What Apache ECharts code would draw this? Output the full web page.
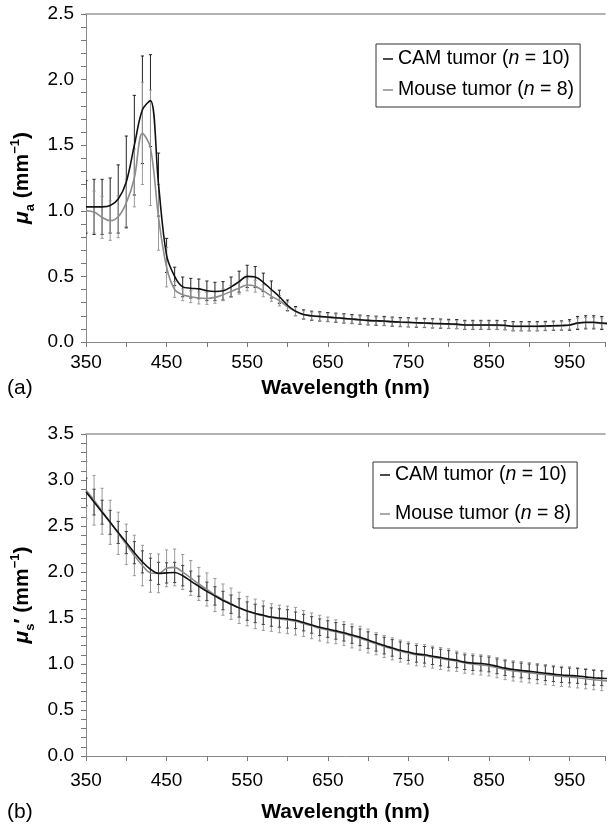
<!DOCTYPE html>
<html><head><meta charset="utf-8">
<script src="https://cdn.jsdelivr.net/npm/echarts@6/dist/echarts.min.js"></script>
<style>html,body{margin:0;padding:0;background:#fff}#c{width:608px;height:826px}</style>
</head><body><div id="c"></div>
<script>
const wavelengths = [350,360,370,380,390,400,410,420,430,440,450,460,470,480,490,500,510,520,530,540,550,560,570,580,590,600,610,620,630,640,650,660,670,680,690,700,710,720,730,740,750,760,770,780,790,800,810,820,830,840,850,860,870,880,890,900,910,920,930,940,950,960,970,980,990,1000];
const xTickLabels = [350,450,550,650,750,850,950];
const yTickLabelsA = [0.0,0.5,1.0,1.5,2.0,2.5];
const yTickLabelsB = [0.0,0.5,1.0,1.5,2.0,2.5,3.0,3.5];

// (a) absorption coefficient mu_a
const muaCam = [1.03,1.03,1.03,1.04,1.09,1.22,1.50,1.77,1.84,1.20,0.66,0.50,0.42,0.41,0.405,0.39,0.385,0.39,0.42,0.46,0.50,0.495,0.455,0.40,0.345,0.28,0.235,0.21,0.20,0.195,0.19,0.185,0.18,0.175,0.17,0.165,0.162,0.16,0.155,0.152,0.15,0.147,0.145,0.142,0.14,0.138,0.136,0.13,0.13,0.13,0.13,0.13,0.128,0.12,0.12,0.12,0.12,0.122,0.124,0.126,0.13,0.145,0.15,0.15,0.145,0.14];
const muaCamSd = [0.20,0.21,0.21,0.21,0.26,0.35,0.38,0.41,0.35,0.24,0.13,0.07,0.075,0.075,0.075,0.075,0.07,0.07,0.075,0.08,0.085,0.08,0.07,0.065,0.05,0.04,0.035,0.035,0.035,0.035,0.035,0.035,0.035,0.035,0.035,0.035,0.035,0.035,0.035,0.035,0.035,0.035,0.035,0.035,0.035,0.035,0.035,0.035,0.035,0.035,0.035,0.035,0.035,0.035,0.035,0.035,0.035,0.035,0.035,0.035,0.04,0.05,0.05,0.05,0.05,0.05];
const muaMouse = [1.00,0.99,0.95,0.925,0.955,1.06,1.25,1.59,1.48,0.95,0.57,0.40,0.36,0.345,0.335,0.332,0.34,0.36,0.385,0.41,0.435,0.425,0.39,0.35,0.315,0.27,0.232,0.207,0.198,0.193,0.188,0.183,0.178,0.173,0.168,0.163,0.16,0.157,0.153,0.15,0.148,0.145,0.143,0.14,0.138,0.135,0.133,0.128,0.128,0.128,0.128,0.127,0.125,0.118,0.118,0.118,0.118,0.12,0.122,0.124,0.128,0.142,0.147,0.147,0.142,0.137];
const muaMouseSd = [0.16,0.16,0.16,0.15,0.16,0.18,0.22,0.39,0.44,0.25,0.15,0.06,0.045,0.045,0.045,0.045,0.045,0.045,0.045,0.045,0.045,0.045,0.045,0.04,0.04,0.035,0.03,0.03,0.03,0.03,0.03,0.03,0.03,0.03,0.03,0.03,0.03,0.03,0.03,0.03,0.03,0.03,0.03,0.03,0.03,0.03,0.03,0.03,0.03,0.03,0.03,0.03,0.03,0.03,0.03,0.03,0.03,0.03,0.03,0.03,0.03,0.04,0.04,0.04,0.04,0.04];

// (b) reduced scattering coefficient mu_s'
const musCam = [2.87,2.76,2.65,2.54,2.43,2.32,2.21,2.11,2.03,1.985,1.99,1.995,1.96,1.90,1.845,1.79,1.74,1.69,1.65,1.61,1.575,1.55,1.53,1.51,1.50,1.49,1.475,1.45,1.425,1.40,1.38,1.36,1.34,1.315,1.29,1.26,1.23,1.20,1.175,1.15,1.13,1.11,1.10,1.085,1.07,1.055,1.04,1.02,1.01,1.005,0.995,0.975,0.955,0.94,0.93,0.92,0.91,0.90,0.89,0.88,0.875,0.87,0.86,0.85,0.845,0.84];
const musCamSd = [0.15,0.14,0.13,0.13,0.12,0.12,0.12,0.12,0.12,0.12,0.11,0.11,0.11,0.11,0.11,0.10,0.10,0.10,0.10,0.10,0.10,0.10,0.10,0.10,0.10,0.10,0.09,0.09,0.09,0.09,0.09,0.09,0.09,0.09,0.09,0.09,0.09,0.09,0.09,0.09,0.09,0.09,0.09,0.09,0.09,0.09,0.08,0.08,0.08,0.08,0.08,0.08,0.08,0.08,0.08,0.08,0.08,0.08,0.08,0.08,0.08,0.08,0.08,0.08,0.08,0.08];
const musMouse = [2.89,2.78,2.66,2.54,2.42,2.30,2.18,2.07,1.99,1.985,2.04,2.05,2.00,1.935,1.87,1.81,1.75,1.70,1.655,1.61,1.575,1.545,1.525,1.505,1.49,1.48,1.465,1.44,1.415,1.39,1.37,1.35,1.33,1.305,1.28,1.25,1.22,1.19,1.165,1.14,1.12,1.10,1.09,1.075,1.06,1.045,1.03,1.01,1.00,0.99,0.98,0.96,0.94,0.925,0.915,0.905,0.895,0.885,0.875,0.865,0.86,0.85,0.84,0.83,0.82,0.815];
const musMouseSd = [0.31,0.27,0.25,0.24,0.23,0.22,0.22,0.22,0.21,0.21,0.20,0.20,0.19,0.19,0.18,0.18,0.18,0.17,0.17,0.17,0.16,0.16,0.16,0.15,0.15,0.15,0.15,0.14,0.14,0.14,0.14,0.13,0.13,0.13,0.13,0.13,0.12,0.12,0.12,0.12,0.12,0.12,0.12,0.12,0.12,0.12,0.11,0.11,0.11,0.11,0.11,0.11,0.11,0.11,0.11,0.11,0.11,0.11,0.11,0.11,0.11,0.11,0.11,0.11,0.11,0.11];

const FONT = '"Liberation Sans", Arial, Helvetica, sans-serif';
const NAME_CAM = 'CAM tumor (n = 10)';
const NAME_MOUSE = 'Mouse tumor (n = 8)';
const X_MIN = 350, X_MAX = 994;

function pairs(vals){ return wavelengths.map((w,i)=>[w, vals[i]]); }
function bars(vals, sd){ return wavelengths.map((w,i)=>[w, vals[i]-sd[i], vals[i]+sd[i]]); }

function errRender(color){
  return function(params, api){
    const x = api.value(0);
    const lo = api.coord([x, api.value(1)]);
    const hi = api.coord([x, api.value(2)]);
    const c = 1.6;
    const st = {stroke: color, lineWidth: 1};
    return {type:'group', children:[
      {type:'line', shape:{x1:lo[0],y1:lo[1],x2:hi[0],y2:hi[1]}, style:st},
      {type:'line', shape:{x1:hi[0]-c,y1:hi[1],x2:hi[0]+c,y2:hi[1]}, style:st},
      {type:'line', shape:{x1:lo[0]-c,y1:lo[1],x2:lo[0]+c,y2:lo[1]}, style:st}
    ]};
  };
}

function xAxisDef(idx, margin, gap){
  return {
    type:'value', gridIndex: idx, position:'bottom', min:X_MIN, max:X_MAX, interval:50,
    name:'Wavelength (nm)', nameLocation:'middle', nameGap: gap,
    nameTextStyle:{fontFamily:FONT, fontSize:21, fontWeight:'bold', color:'#000'},
    axisLine:{show:true, lineStyle:{color:'#888', width:1}},
    axisTick:{show:true, length:5, lineStyle:{color:'#777'}},
    splitLine:{show:false},
    axisLabel:{margin: margin, fontFamily:FONT, fontSize:19, color:'#000',
      formatter: v => (xTickLabels.indexOf(v) >= 0 ? String(v) : '')}
  };
}
function topAxisDef(idx){
  return {
    type:'value', gridIndex: idx, position:'top', min:X_MIN, max:X_MAX,
    axisLine:{show:true, onZero:false, lineStyle:{color:'#999', width:1.5}},
    axisTick:{show:false}, axisLabel:{show:false}, splitLine:{show:false}
  };
}
function yAxisDef(idx, max, labels, nameStr){
  return {
    type:'value', gridIndex: idx, min:0, max:max, interval:0.5,
    name: nameStr, nameLocation:'middle', nameRotate:90, nameGap:46,
    nameTextStyle:{fontFamily:FONT, color:'#000', rich:{
      mu:{fontFamily:FONT, fontSize:21, fontWeight:'bold', fontStyle:'italic', lineHeight:28, color:'#000'},
      sub:{fontFamily:FONT, fontSize:13, fontWeight:'bold', lineHeight:12, verticalAlign:'bottom', color:'#000'},
      b:{fontFamily:FONT, fontSize:21, fontWeight:'bold', lineHeight:28, color:'#000'},
      sup:{fontFamily:FONT, fontSize:13, fontWeight:'bold', lineHeight:12, verticalAlign:'top', color:'#000'}
    }},
    axisLine:{show:true, lineStyle:{color:'#888', width:1}},
    axisTick:{show:true, length:5, lineStyle:{color:'#777'}},
    minorTick:{show:true, splitNumber:5, length:5, lineStyle:{color:'#777'}},
    splitLine:{show:false}, minorSplitLine:{show:false},
    axisLabel:{margin:12, fontFamily:FONT, fontSize:19, color:'#000',
      formatter: v => { const f = labels.find(l => Math.abs(l - v) < 1e-6); return f === undefined ? '' : f.toFixed(1); }}
  };
}
function legendDef(left, top, gap, pad){
  return {
    left:left, top:top, orient:'vertical', itemGap:gap, padding:pad,
    borderColor:'#333', borderWidth:1, backgroundColor:'#fff',
    icon:'rect', itemWidth:10, itemHeight:1.5, selectedMode:false,
    data:[NAME_CAM, NAME_MOUSE],
    formatter: function(name){
      const m = name.match(/^(.*)\(n = (\d+)\)$/);
      return '{t|' + m[1] + '(}{i|n}{t| = ' + m[2] + ')}';
    },
    textStyle:{rich:{
      t:{fontFamily:FONT, fontSize:19.5, color:'#000', lineHeight:20},
      i:{fontFamily:FONT, fontSize:19.5, fontStyle:'italic', color:'#000', lineHeight:20}
    }}
  };
}

const chart = echarts.init(document.getElementById('c'), null, {renderer:'canvas'});
chart.setOption({
  animation:false,
  backgroundColor:'#fff',
  grid:[
    {left:86, top:14, right:0, height:328, show:false},
    {left:86, top:434, right:0, height:322, show:false}
  ],
  xAxis:[xAxisDef(0, 11, 36), xAxisDef(1, 15, 46), topAxisDef(0), topAxisDef(1)],
  yAxis:[
    yAxisDef(0, 2.5, yTickLabelsA, '{mu|μ}{sub|a}{b| (mm}{sup|−1}{b|)}'),
    yAxisDef(1, 3.5, yTickLabelsB, '{mu|μ}{sub|s}{b|′ (mm}{sup|−1}{b|)}')
  ],
  legend:[legendDef(376, 44, 11, [5,6,7,7]), legendDef(373, 462, 19, [3,6,4,7])],
  graphic:[
    {type:'text', left:7, top:378, style:{text:'(a)', fontFamily:FONT, fontSize:21, fill:'#000'}},
    {type:'text', left:7, top:802, style:{text:'(b)', fontFamily:FONT, fontSize:21, fill:'#000'}}
  ],
  series:[
    {type:'custom', name:'camErrA', xAxisIndex:0, yAxisIndex:0, renderItem:errRender('#222'), data:bars(muaCam, muaCamSd), clip:true, z:1, silent:true},
    {type:'custom', name:'mouseErrA', xAxisIndex:0, yAxisIndex:0, renderItem:errRender('#999'), data:bars(muaMouse, muaMouseSd), clip:true, z:1, silent:true},
    {type:'line', name:NAME_MOUSE, xAxisIndex:0, yAxisIndex:0, data:pairs(muaMouse), smooth:0.35, showSymbol:false, clip:true, lineStyle:{color:'#8c8c8c', width:1.6}, itemStyle:{color:'#8c8c8c'}, z:3},
    {type:'line', name:NAME_CAM, xAxisIndex:0, yAxisIndex:0, data:pairs(muaCam), smooth:0.35, showSymbol:false, clip:true, lineStyle:{color:'#111', width:1.6}, itemStyle:{color:'#111'}, z:4},
    {type:'custom', name:'mouseErrB', xAxisIndex:1, yAxisIndex:1, renderItem:errRender('#9a9a9a'), data:bars(musMouse, musMouseSd), clip:true, z:1, silent:true},
    {type:'custom', name:'camErrB', xAxisIndex:1, yAxisIndex:1, renderItem:errRender('#444'), data:bars(musCam, musCamSd), clip:true, z:1, silent:true},
    {type:'line', name:NAME_MOUSE, xAxisIndex:1, yAxisIndex:1, data:pairs(musMouse), smooth:0.35, showSymbol:false, clip:true, lineStyle:{color:'#8c8c8c', width:1.6}, itemStyle:{color:'#8c8c8c'}, z:3},
    {type:'line', name:NAME_CAM, xAxisIndex:1, yAxisIndex:1, data:pairs(musCam), smooth:0.35, showSymbol:false, clip:true, lineStyle:{color:'#111', width:1.6}, itemStyle:{color:'#111'}, z:4}
  ]
});
</script></body></html>
